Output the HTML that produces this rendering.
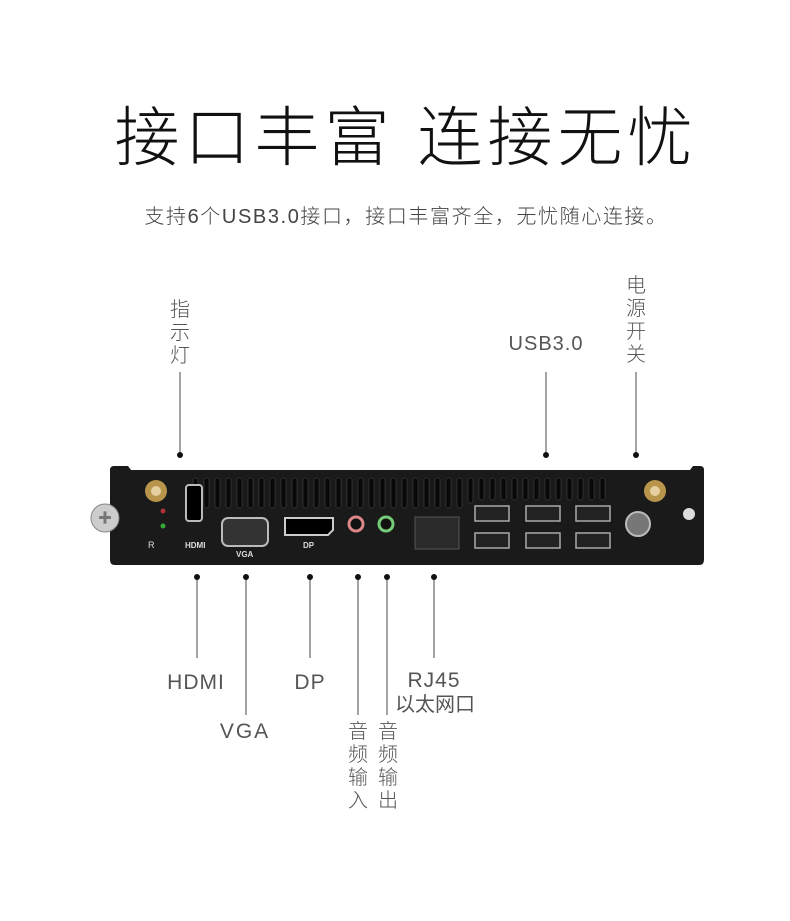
<!DOCTYPE html>
<html><head><meta charset="utf-8"><style>
body{margin:0;width:790px;height:921px;background:#fff;position:relative;overflow:hidden;font-family:"Liberation Sans","Noto Sans CJK SC",sans-serif;color:#555}
.t{position:absolute;white-space:nowrap;line-height:1}
.v{position:absolute;width:24px;text-align:center;font-size:20px;line-height:23px;font-weight:300;color:#555}
</style></head><body>
<div class="t" style="left:8px;width:796px;text-align:center;top:105px;font-size:65px;color:#111;font-weight:300;letter-spacing:5px">接口丰富 连接无忧</div>
<div class="t" style="left:0;width:812px;text-align:center;top:207px;font-size:20px;color:#444;font-weight:300;letter-spacing:1.6px">支持6个USB3.0接口，接口丰富齐全，无忧随心连接。</div>

<div class="v" style="left:168px;top:299px">指<br>示<br>灯</div>
<div class="t" style="left:506px;width:80px;text-align:center;top:334px;font-size:20px;letter-spacing:1px">USB3.0</div>
<div class="v" style="left:624px;top:275px">电<br>源<br>开<br>关</div>
<div class="t" style="left:150px;width:92px;text-align:center;top:672px;font-size:21px;letter-spacing:1px">HDMI</div>
<div class="t" style="left:205px;width:80px;text-align:center;top:721px;font-size:21px;letter-spacing:2px">VGA</div>
<div class="t" style="left:280px;width:60px;text-align:center;top:672px;font-size:21px;letter-spacing:1px">DP</div>
<div class="t" style="left:394px;width:80px;text-align:center;top:670px;font-size:21px;letter-spacing:1px">RJ45</div>
<div class="t" style="left:390px;width:90px;text-align:center;top:695px;font-size:20px">以太网口</div>
<div class="v" style="left:346px;top:721px">音<br>频<br>输<br>入</div>
<div class="v" style="left:376px;top:721px">音<br>频<br>输<br>出</div>

<svg width="790" height="921" style="position:absolute;left:0;top:0">
<g stroke="#666" stroke-width="1.2">
<line x1="180" y1="372" x2="180" y2="455"/><line x1="546" y1="372" x2="546" y2="455"/><line x1="636" y1="372" x2="636" y2="455"/>
<line x1="197" y1="577" x2="197" y2="658"/><line x1="246" y1="577" x2="246" y2="715"/><line x1="310" y1="577" x2="310" y2="658"/>
<line x1="358" y1="577" x2="358" y2="715"/><line x1="387" y1="577" x2="387" y2="715"/><line x1="434" y1="577" x2="434" y2="658"/>
</g>
<g fill="#111">
<circle cx="180" cy="455" r="3"/><circle cx="546" cy="455" r="3"/><circle cx="636" cy="455" r="3"/>
<circle cx="197" cy="577" r="3"/><circle cx="246" cy="577" r="3"/><circle cx="310" cy="577" r="3"/>
<circle cx="358" cy="577" r="3"/><circle cx="387" cy="577" r="3"/><circle cx="434" cy="577" r="3"/>
</g>
<path d="M110 470 Q110 466 114 466 L128 466 L131 470 L690 470 L693 466 L700 466 Q704 466 704 470 L704 560 Q704 565 699 565 L115 565 Q110 565 110 560 Z" fill="#1a1a1a"/>
<g fill="#080808" stroke="#3d3d3d" stroke-width="0.7">
<rect x="193" y="478" width="5" height="30" rx="2"/><rect x="204" y="478" width="5" height="30" rx="2"/>
<rect x="215" y="478" width="5" height="30" rx="2"/><rect x="226" y="478" width="5" height="30" rx="2"/>
<rect x="237" y="478" width="5" height="30" rx="2"/><rect x="248" y="478" width="5" height="30" rx="2"/>
<rect x="259" y="478" width="5" height="30" rx="2"/><rect x="270" y="478" width="5" height="30" rx="2"/>
<rect x="281" y="478" width="5" height="30" rx="2"/><rect x="292" y="478" width="5" height="30" rx="2"/>
<rect x="303" y="478" width="5" height="30" rx="2"/><rect x="314" y="478" width="5" height="30" rx="2"/>
<rect x="325" y="478" width="5" height="30" rx="2"/><rect x="336" y="478" width="5" height="30" rx="2"/>
<rect x="347" y="478" width="5" height="30" rx="2"/><rect x="358" y="478" width="5" height="30" rx="2"/>
<rect x="369" y="478" width="5" height="30" rx="2"/><rect x="380" y="478" width="5" height="30" rx="2"/>
<rect x="391" y="478" width="5" height="30" rx="2"/><rect x="402" y="478" width="5" height="30" rx="2"/>
<rect x="413" y="478" width="5" height="30" rx="2"/><rect x="424" y="478" width="5" height="30" rx="2"/>
<rect x="435" y="478" width="5" height="30" rx="2"/><rect x="446" y="478" width="5" height="30" rx="2"/>
<rect x="457" y="478" width="5" height="30" rx="2"/><rect x="468" y="478" width="5" height="25" rx="2"/>
<rect x="479" y="478" width="5" height="22" rx="2"/><rect x="490" y="478" width="5" height="22" rx="2"/>
<rect x="501" y="478" width="5" height="22" rx="2"/><rect x="512" y="478" width="5" height="22" rx="2"/>
<rect x="523" y="478" width="5" height="22" rx="2"/><rect x="534" y="478" width="5" height="22" rx="2"/>
<rect x="545" y="478" width="5" height="22" rx="2"/><rect x="556" y="478" width="5" height="22" rx="2"/>
<rect x="567" y="478" width="5" height="22" rx="2"/><rect x="578" y="478" width="5" height="22" rx="2"/>
<rect x="589" y="478" width="5" height="22" rx="2"/><rect x="600" y="478" width="5" height="22" rx="2"/>
</g>
<circle cx="105" cy="518" r="14" fill="#ccc" stroke="#888"/><text x="105" y="523" font-size="14" text-anchor="middle" fill="#777">✚</text>
<circle cx="156" cy="491" r="11" fill="#b8954a"/><circle cx="156" cy="491" r="5" fill="#e6d0a0"/>
<circle cx="655" cy="491" r="11" fill="#b8954a"/><circle cx="655" cy="491" r="5" fill="#e6d0a0"/>
<circle cx="163" cy="511" r="2.5" fill="#a33"/><circle cx="163" cy="526" r="2.5" fill="#3a3"/>
<text x="148" y="548" font-size="9" fill="#ddd">R</text>
<rect x="186" y="485" width="16" height="36" rx="3" fill="#000" stroke="#bbb" stroke-width="2"/>
<text x="185" y="548" font-size="8" fill="#ddd" font-weight="bold">HDMI</text>
<rect x="222" y="518" width="46" height="28" rx="6" fill="#333" stroke="#bbb" stroke-width="2"/>
<text x="236" y="557" font-size="8" fill="#ddd" font-weight="bold">VGA</text>
<path d="M285 518 L333 518 L333 530 L328 535 L285 535 Z" fill="#000" stroke="#ccc" stroke-width="2"/>
<text x="303" y="548" font-size="8" fill="#ddd" font-weight="bold">DP</text>
<circle cx="356" cy="524" r="7" fill="#111" stroke="#d88" stroke-width="3"/>
<circle cx="386" cy="524" r="7" fill="#111" stroke="#7c7" stroke-width="3"/>
<rect x="415" y="517" width="44" height="32" fill="#2a2a2a" stroke="#555"/>
<g fill="#222" stroke="#aaa" stroke-width="1.5">
<rect x="475" y="506" width="34" height="15"/><rect x="475" y="533" width="34" height="15"/>
<rect x="526" y="506" width="34" height="15"/><rect x="526" y="533" width="34" height="15"/>
<rect x="576" y="506" width="34" height="15"/><rect x="576" y="533" width="34" height="15"/>
</g>
<circle cx="638" cy="524" r="12" fill="#777" stroke="#bbb" stroke-width="2"/>
<circle cx="689" cy="514" r="6" fill="#ddd"/>
</svg>
</body></html>
